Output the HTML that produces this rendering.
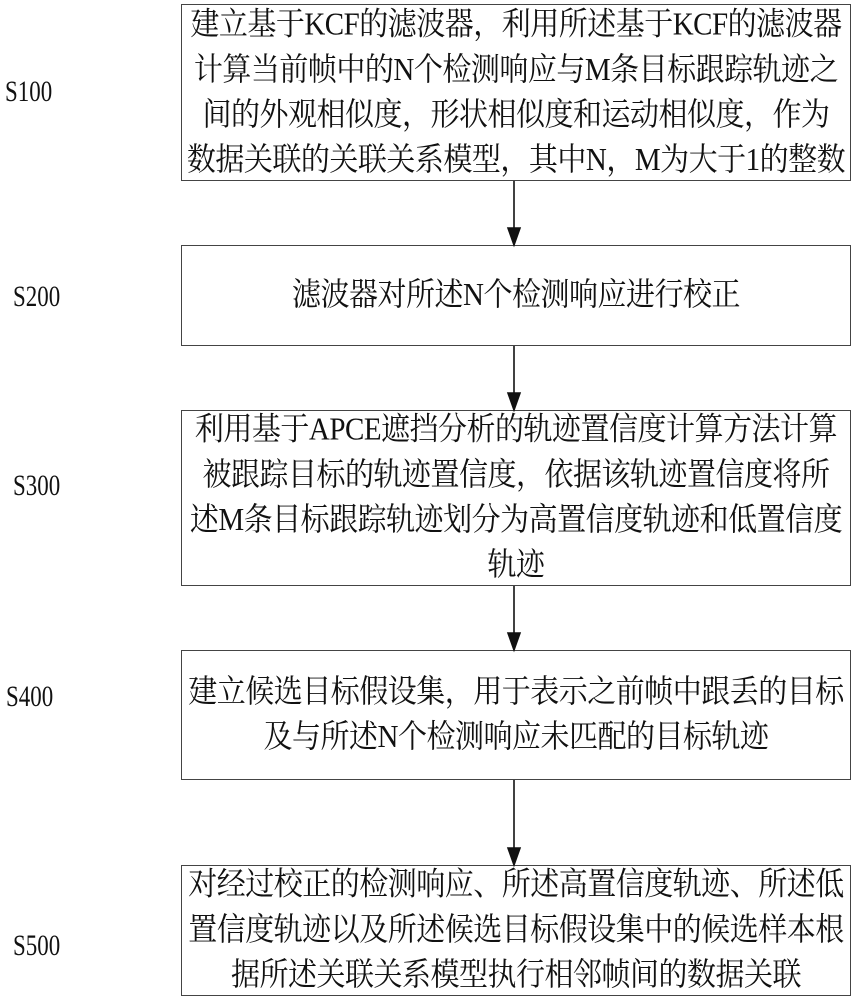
<!DOCTYPE html>
<html><head><meta charset="utf-8"><style>
body{margin:0;width:856px;height:1003px;background:#fff;position:relative;overflow:hidden;font-family:"Liberation Serif","Noto Serif CJK SC",serif;color:#111}
.b{position:absolute;left:181px;width:670px;border:1.5px solid #444;box-sizing:border-box;display:flex;align-items:center;justify-content:center;text-align:center;font-size:29px;line-height:41px;white-space:nowrap;letter-spacing:-0.5px}
.b>div{transform:scaleY(1.1)}
.l{position:absolute;font-size:27px;transform:scaleX(0.85) scaleY(1.1);transform-origin:left center}
</style></head><body>
<div class="b" style="top:4px;height:177px;"><div>建立基于KCF的滤波器，利用所述基于KCF的滤波器<br>计算当前帧中的N个检测响应与M条目标跟踪轨迹之<br>间的外观相似度，形状相似度和运动相似度，作为<br>数据关联的关联关系模型，其中N，M为大于1的整数</div></div>
<div class="b" style="top:245px;height:101px;"><div>滤波器对所述N个检测响应进行校正</div></div>
<div class="b" style="top:410px;height:176px;"><div>利用基于APCE遮挡分析的轨迹置信度计算方法计算<br>被跟踪目标的轨迹置信度，依据该轨迹置信度将所<br>述M条目标跟踪轨迹划分为高置信度轨迹和低置信度<br>轨迹</div></div>
<div class="b" style="top:650px;height:130px;"><div>建立候选目标假设集，用于表示之前帧中跟丢的目标<br>及与所述N个检测响应未匹配的目标轨迹</div></div>
<div class="b" style="top:865px;height:131px;"><div>对经过校正的检测响应、所述高置信度轨迹、所述低<br>置信度轨迹以及所述候选目标假设集中的候选样本根<br>据所述关联关系模型执行相邻帧间的数据关联</div></div>
<div class="l" style="left:5px;top:76px">S100</div>
<div class="l" style="left:13px;top:281px">S200</div>
<div class="l" style="left:13px;top:470px">S300</div>
<div class="l" style="left:6px;top:681px">S400</div>
<div class="l" style="left:13px;top:930px">S500</div>
<svg width="856" height="1003" style="position:absolute;left:0;top:0">
<g stroke="#111" stroke-width="1.6" fill="#111">
<line x1="514" y1="181" x2="514" y2="230"/><polygon points="508,228 520,228 514,245"/>
<line x1="514" y1="346" x2="514" y2="395"/><polygon points="508,393 520,393 514,410"/>
<line x1="514" y1="586" x2="514" y2="635"/><polygon points="508,633 520,633 514,650"/>
<line x1="514" y1="780" x2="514" y2="850"/><polygon points="508,848 520,848 514,865"/>
</g></svg>
</body></html>
